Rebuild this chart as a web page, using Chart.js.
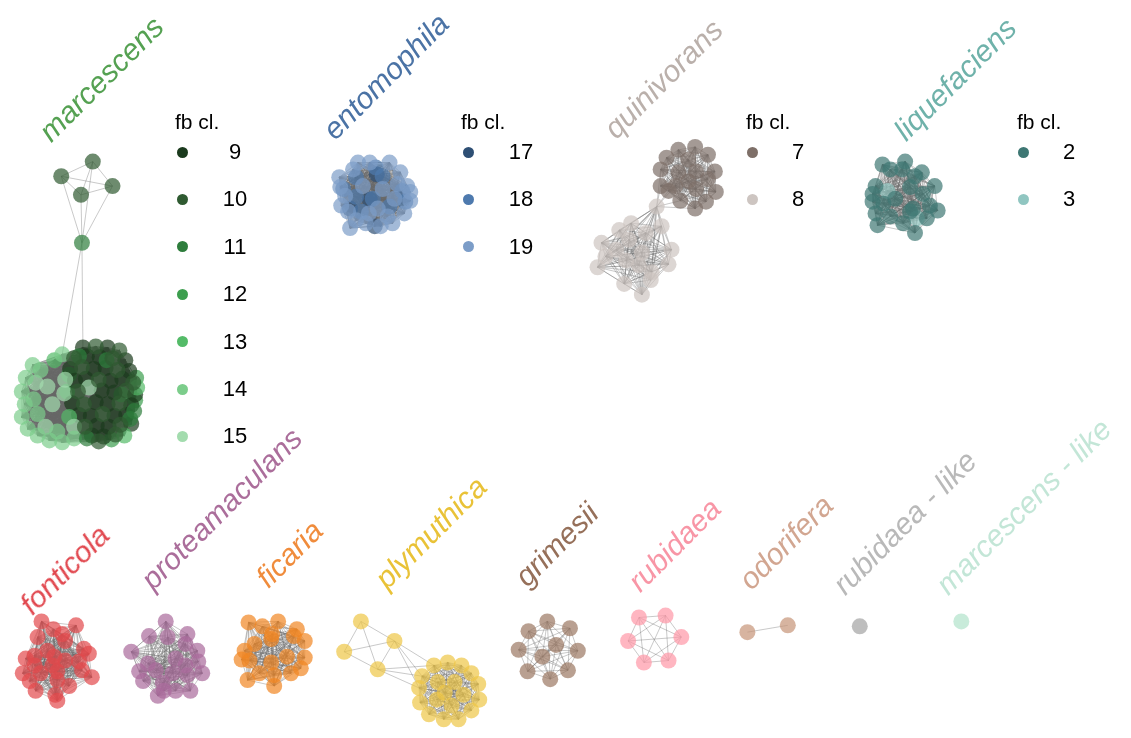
<!DOCTYPE html>
<html>
<head>
<meta charset="utf-8">
<script src="https://cdn.jsdelivr.net/npm/chart.js@4"></script>
<style>
  html, body { margin: 0; padding: 0; background: #fff; }
  #wrap { position: relative; width: 1131px; height: 738px; font-family: "Liberation Sans", Arial, sans-serif; overflow: hidden; }
  #graph { position: absolute; left: 0; top: 0; }
  .strip { position: absolute; font-size: 30px; font-style: italic; line-height: 30px; white-space: nowrap;
           transform-origin: 0 0; transform: rotate(-45deg) translateY(-26px); }
  .key-title { position: absolute; font-size: 21px; line-height: 21px; color: #000; white-space: nowrap; }
  .key-dot { position: absolute; width: 11px; height: 11px; border-radius: 50%; }
  .key-label { position: absolute; font-size: 22px; line-height: 22px; color: #000; text-align: center; }
</style>
</head>
<body>
<div id="wrap">
  <canvas id="graph" width="1131" height="738"></canvas>
</div>
<script>
// species shown, in panel order
const species = ['marcescens', 'entomophila', 'quinivorans', 'liquefaciens',
  'fonticola', 'proteamaculans', 'ficaria', 'plymuthica', 'grimesii',
  'rubidaea', 'odorifera', 'rubidaea - like', 'marcescens - like'];

// fb clusters listed in each legend
const marcescensClusters = [9, 10, 11, 12, 13, 14, 15];
const entomophilaClusters = [17, 18, 19];
const quinivoransClusters = [7, 8];
const liquefaciensClusters = [2, 3];

// nodes: [x, y, fb cluster, group]; each group is fully connected
const marcescensNodes = [
  [54,172,10,0],[86,157,10,0],[106,182,10,0],[74,191,10,0],[75,240,11,0],
  [25,365,14,1],[18,378,14,1],[14,392,14,1],[17,405,14,1],[14,418,14,1],[20,430,14,1],[30,437,14,1],[42,442,14,1],[55,444,14,1],[67,440,14,1],
  [28,383,15,1],[26,400,14,1],[30,415,14,1],[38,428,15,1],[50,433,14,1],[33,370,14,1],[55,354,14,1],[40,387,15,1],[45,405,15,1],[58,380,15,1],
  [57,394,15,1],[82,388,15,1],[67,428,15,1],[47,360,13,1],[62,418,13,1],
  [76,347,9,1],[89,346,10,1],[101,347,9,1],[113,350,10,1],
  [67,358,10,1],[80,356,9,1],[93,357,9,1],[106,358,10,1],[119,360,9,1],
  [63,369,9,1],[75,367,10,1],[87,369,9,1],[99,368,9,1],[111,370,10,1],[123,371,9,1],
  [68,381,9,1],[79,379,9,1],[92,380,10,1],[104,381,9,1],[116,379,9,1],[127,383,10,1],
  [71,392,10,1],[95,391,9,1],[108,393,9,1],[120,391,10,1],[129,395,9,1],
  [65,404,9,1],[77,405,10,1],[89,403,9,1],[101,405,9,1],[113,404,10,1],[125,406,9,1],
  [72,416,9,1],[84,417,9,1],[96,415,10,1],[108,417,9,1],[120,416,9,1],
  [78,428,10,1],[90,427,9,1],[102,428,9,1],[114,426,10,1],[125,425,9,1],
  [85,437,9,1],[97,438,9,1],[109,436,10,1],
  [130,378,12,1],[131,388,13,1],[128,412,11,1],[118,437,13,1],[105,441,12,1],[92,443,10,1],[60,392,12,1],
  [72,356,11,1],[62,375,12,1],[129,401,12,1],[124,420,11,1],[80,440,11,1],[100,360,11,1],[115,395,12,1]
];
const marcescensBridges = [[4,21],[4,30]];

const entomophilaNodes = [
  [336,173,19,0],[355,158,19,0],[367,158,19,0],[387,158,19,0],[398,168,19,0],[405,182,19,0],[408,197,19,0],[402,210,19,0],
  [390,220,19,0],[378,223,19,0],[363,220,19,0],[347,225,19,0],[353,217,19,0],[338,202,19,0],[337,183,19,0],[345,208,19,0],
  [380,185,19,0],[392,195,19,0],[360,182,19,0],[375,205,19,0],[395,180,19,0],[350,165,19,0],[385,213,19,0],[366,210,19,0],
  [408,188,19,0],[342,192,19,0],
  [340,185,18,0],[353,173,18,0],[373,163,18,0],[380,172,18,0],[400,187,18,0],[370,195,18,0],[403,198,18,0],[353,193,18,0],
  [387,203,18,0],[358,208,18,0],
  [367,196,17,0],[347,205,17,0],[372,223,17,0],[374,170,17,0]
];
const entomophilaBridges = [];

const quinivoransNodes = [
  [680,145,7,0],[697,142,7,0],[710,150,7,0],[717,167,7,0],[718,188,7,0],[708,198,7,0],[697,205,7,0],[682,197,7,0],
  [670,187,7,0],[662,182,7,0],[662,165,7,0],[668,153,7,0],[690,155,7,0],[680,168,7,0],[698,167,7,0],[710,175,7,0],
  [677,182,7,0],[698,185,7,0],[690,177,7,0],
  [658,203,8,1],[663,223,8,1],[673,247,8,1],[643,293,8,1],[625,282,8,1],[598,265,8,1],[602,240,8,1],[620,227,8,1],
  [632,220,8,1],[647,230,8,1],[630,237,8,1],[643,250,8,1],[627,258,8,1],[640,263,8,1],[653,270,8,1],[617,247,8,1],
  [606,254,8,1],[652,278,8,1],[670,262,8,1]
];
const quinivoransBridges = [[19,9],[19,8],[19,7],[19,16],[19,10],[19,6]];

const liquefaciensNodes = [
  [887,160,2,0],[910,157,2,0],[895,165,2,0],[907,165,2,0],[927,168,2,0],[920,172,2,0],[880,182,2,0],[877,190,2,0],
  [892,187,3,0],[915,183,2,0],[940,182,2,0],[943,207,2,0],[935,202,2,0],[877,198,2,0],[880,210,2,0],[882,222,2,0],
  [895,213,2,0],[908,220,2,0],[920,230,2,0],[922,215,3,0],[918,205,2,0],[932,215,2,0],[915,208,2,0],[900,195,2,0],
  [928,190,2,0],[888,200,2,0]
];
const liquefaciensBridges = [];

const fonticolaNodes = [
  [34,627,0,0],[69,631,0,0],[46,635,0,0],[55,640,0,0],[30,643,0,0],[58,647,0,0],[40,657,0,0],[77,655,0,0],[82,660,0,0],
  [18,665,0,0],[27,662,0,0],[47,663,0,0],[58,667,0,0],[45,672,0,0],[72,668,0,0],[27,672,0,0],[15,680,0,0],[33,680,0,0],
  [50,678,0,0],[75,677,0,0],[85,684,0,0],[22,688,0,0],[50,687,0,0],[62,693,0,0],[28,698,0,0],[48,702,0,0],[50,708,0,0]
];
const proteamaculansNodes = [
  [160,627,0,0],[143,642,0,0],[162,643,0,0],[182,640,0,0],[180,650,0,0],[125,658,0,0],[192,657,0,0],[170,665,0,0],
  [142,670,0,0],[180,672,0,0],[193,668,0,0],[133,678,0,0],[167,680,0,0],[197,680,0,0],[150,677,0,0],[182,682,0,0],
  [137,688,0,0],[158,698,0,0],[170,698,0,0],[185,698,0,0],[152,703,0,0],[157,690,0,0]
];
const ficariaNodes = [
  [244,628,0,0],[258,632,0,0],[274,627,0,0],[293,635,0,0],[268,640,0,0],[290,642,0,0],[301,647,0,0],[250,650,0,0],
  [240,657,0,0],[267,645,0,0],[283,663,0,0],[301,664,0,0],[237,666,0,0],[245,667,0,0],[267,669,0,0],[297,675,0,0],
  [287,680,0,0],[255,680,0,0],[270,682,0,0],[243,687,0,0],[270,693,0,0]
];
const plymuthicaNodes = [
  [358,627,0,0],[392,647,0,0],[341,658,0,0],[375,676,0,0],
  [432,672,0,1],[446,669,0,1],[460,672,0,1],[470,680,0,1],[477,691,0,1],[478,707,0,1],[470,718,0,1],[457,727,0,1],
  [442,727,0,1],[427,722,0,1],[418,710,0,1],[417,695,0,1],[420,683,0,1],
  [436,689,0,1],[453,689,0,1],[462,702,0,1],[435,707,0,1],[450,713,0,1],[443,700,0,1]
];
const plymuthicaBridges = [[1,4],[1,16],[1,15],[3,4],[3,16],[3,15]];
const grimesiiNodes = [
  [547,627,0,0],[528,637,0,0],[570,634,0,0],[518,656,0,0],[556,651,0,0],[542,663,0,0],[578,657,0,0],
  [527,678,0,0],[568,677,0,0],[550,686,0,0]
];
const rubidaeaNodes = [[640,623,0,0],[667,621,0,0],[683,643,0,0],[629,647,0,0],[670,667,0,0],[645,669,0,0]];
const odoriferaNodes = [[750,638,0,0],[791,631,0,0]];
const rubidaeaLikeNodes = [[864,632,0,0]];
const marcescensLikeNodes = [[967,627,0,0]];

const nodesBySpecies = [marcescensNodes, entomophilaNodes, quinivoransNodes, liquefaciensNodes,
  fonticolaNodes, proteamaculansNodes, ficariaNodes, plymuthicaNodes, grimesiiNodes,
  rubidaeaNodes, odoriferaNodes, rubidaeaLikeNodes, marcescensLikeNodes];
const bridgesBySpecies = [marcescensBridges, entomophilaBridges, quinivoransBridges, liquefaciensBridges,
  [], [], [], plymuthicaBridges, [], [], [], [], []];
const legendClusters = [marcescensClusters, entomophilaClusters, quinivoransClusters, liquefaciensClusters];

// ---- styling ----
const clusterColor = {
  9: '#1b3a1d', 10: '#2f5a31', 11: '#2e7d3c', 12: '#3c9e4e', 13: '#54bb68', 14: '#7ccd8b', 15: '#a3dcae',
  17: '#2e4f74', 18: '#4e7aae', 19: '#7c9dc8', 7: '#7e6f68', 8: '#cdc5c1', 2: '#3e7773', 3: '#90c6c1'
};
const speciesNodeColor = ['', '', '', '', '#e2484c', '#aa699b', '#f18622', '#eec646', '#9b7762',
  '#ff97a6', '#c69477', '#a2a2a2', '#b1e2ca'];
const speciesTitleColor = ['#55a152', '#4b73a5', '#bab0ab', '#6fb2aa', '#e1484f', '#ab6e9b', '#f08c3c',
  '#e9c237', '#96705a', '#f896a6', '#d2a691', '#b9b9b9', '#c3e6d7'];
// baseline start of each rotated panel label
const titleAnchor = [[45,139],[333,137],[618,136],[912,138],[25,622],[148,597],[265,595],[385,596],
  [527,594],[642,599],[755,597],[850,602],[955,602]];
// legend: [title x, first key y, dot x]
const legendAnchor = [[175,152,182], [461,152,468], [746,152,752], [1017,152,1023]];
const keyStep = 47.4;

function rgba(hex, a) {
  const n = parseInt(hex.slice(1), 16);
  return `rgba(${n >> 16},${(n >> 8) & 255},${n & 255},${a})`;
}

// one scatter dataset per species / cluster
const datasets = [];
nodesBySpecies.forEach((nodes, s) => {
  const keys = [...new Set(nodes.map(n => n[2]))];
  keys.forEach(k => {
    const col = k ? clusterColor[k] : speciesNodeColor[s];
    datasets.push({
      data: nodes.filter(n => n[2] === k).map(n => ({ x: n[0], y: n[1] })),
      backgroundColor: rgba(col, 0.7),
      borderWidth: 0,
      pointRadius: 8,
      pointHoverRadius: 8
    });
  });
});

// edges: full mesh inside each group plus listed bridges
const edgePlugin = {
  id: 'edges',
  beforeDatasetsDraw(chart) {
    const { ctx, scales: { x, y } } = chart;
    ctx.save();
    ctx.strokeStyle = 'rgba(105,105,105,0.6)';
    ctx.lineWidth = 0.6;
    ctx.beginPath();
    const seg = (a, b) => {
      ctx.moveTo(x.getPixelForValue(a[0]), y.getPixelForValue(a[1]));
      ctx.lineTo(x.getPixelForValue(b[0]), y.getPixelForValue(b[1]));
    };
    nodesBySpecies.forEach((nodes, s) => {
      for (let i = 0; i < nodes.length; i++)
        for (let j = i + 1; j < nodes.length; j++)
          if (nodes[i][3] === nodes[j][3]) seg(nodes[i], nodes[j]);
      bridgesBySpecies[s].forEach(([i, j]) => seg(nodes[i], nodes[j]));
    });
    ctx.stroke();
    ctx.restore();
  }
};

const chart = new Chart(document.getElementById('graph'), {
  type: 'scatter',
  data: { datasets },
  options: {
    responsive: false,
    animation: false,
    events: [],
    layout: { padding: 0 },
    plugins: { legend: { display: false }, tooltip: { enabled: false } },
    scales: {
      x: { type: 'linear', min: 0, max: 1131, display: false },
      y: { type: 'linear', min: 0, max: 738, reverse: true, display: false }
    }
  },
  plugins: [edgePlugin]
});

// panel labels and fb cluster keys
const wrap = document.getElementById('wrap');
const px = v => chart.scales.x.getPixelForValue(v);
const py = v => chart.scales.y.getPixelForValue(v);
function add(cls, text, css) {
  const el = document.createElement('div');
  el.className = cls;
  if (text !== null) el.textContent = text;
  Object.assign(el.style, css);
  wrap.appendChild(el);
  return el;
}
species.forEach((name, s) => {
  add('strip', name, { left: px(titleAnchor[s][0]) + 'px', top: py(titleAnchor[s][1]) + 'px', color: speciesTitleColor[s] });
});
legendClusters.forEach((list, l) => {
  const [tx, ky, dx] = legendAnchor[l];
  add('key-title', 'fb cl.', { left: tx + 'px', top: (ky - 41) + 'px' });
  const wide = list.some(v => v >= 10);
  list.forEach((v, i) => {
    const yy = ky + i * keyStep;
    add('key-dot', null, { left: (dx - 5.5) + 'px', top: (yy - 5.5) + 'px', background: clusterColor[v] });
    add('key-label', String(v), { left: (dx + 40) + 'px', top: (yy - 11) + 'px', width: (wide ? 26 : 12) + 'px' });
  });
});
</script>
</body>
</html>
